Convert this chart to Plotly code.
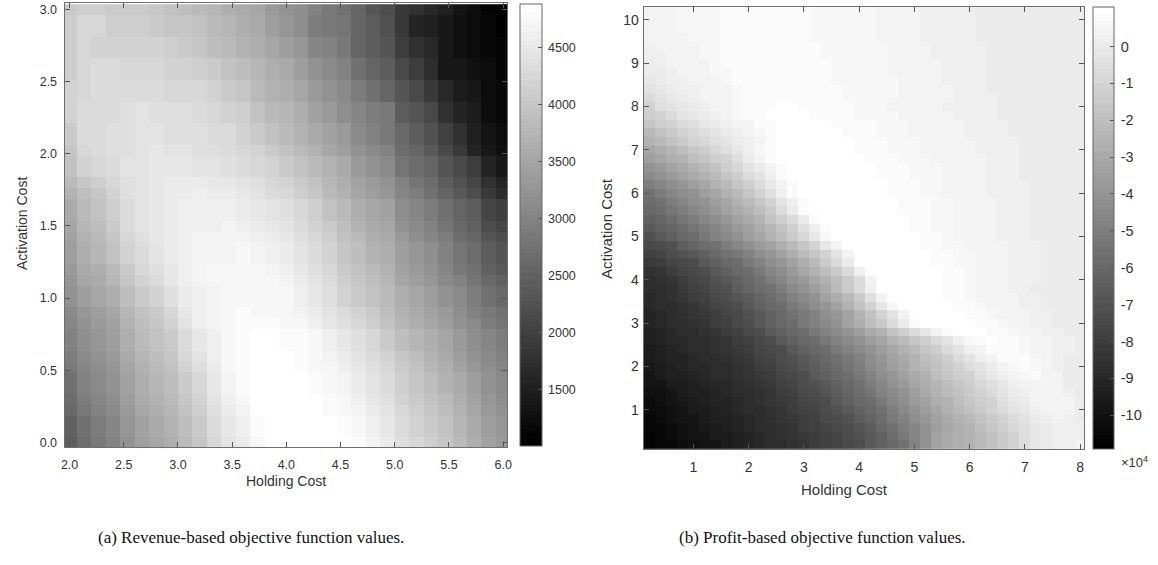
import plotly.graph_objects as go

# ---------------- (a) Revenue-based objective (rows: activation cost 0.0 -> 3.0, cols: holding cost 2.0 -> 6.0)
rev_holding_start, rev_holding_step = 2.0, 4 / 30
rev_activation_start, rev_activation_step = 0.0, 0.075
revenue = [
    [2400,2640,2830,2950,3190,3370,3500,3620,3800,3980,4230,4410,4530,4710,4840,4880,4880,4880,4880,4840,4780,4650,4530,4350,4230,4110,3980,3800,3620,3440,3310],
    [2460,2710,2890,3010,3250,3440,3560,3680,3860,4040,4290,4470,4590,4780,4880,4880,4880,4880,4840,4780,4710,4590,4470,4290,4170,4040,3920,3740,3560,3370,3250],
    [2460,2710,2890,3010,3250,3440,3560,3680,3860,4040,4290,4470,4590,4780,4880,4880,4880,4880,4840,4780,4710,4590,4470,4290,4170,4040,3920,3740,3560,3370,3250],
    [2580,2830,2950,3070,3310,3500,3620,3740,3920,4110,4350,4530,4650,4840,4880,4880,4880,4840,4780,4710,4650,4530,4410,4230,4110,3980,3860,3680,3500,3310,3190],
    [2640,2890,3010,3130,3370,3560,3680,3800,3980,4170,4410,4590,4710,4840,4880,4880,4880,4840,4780,4710,4590,4470,4350,4170,4040,3920,3800,3620,3440,3250,3130],
    [2710,2950,3070,3190,3440,3620,3740,3860,4040,4230,4470,4650,4780,4880,4880,4880,4840,4780,4710,4650,4530,4410,4290,4110,3980,3860,3680,3560,3370,3190,3070],
    [2710,2950,3070,3190,3440,3620,3740,3860,4040,4230,4470,4650,4780,4880,4880,4880,4840,4780,4710,4650,4530,4410,4290,4110,3980,3860,3680,3560,3370,3190,3070],
    [2830,3010,3130,3250,3500,3680,3800,3920,4170,4350,4530,4710,4780,4880,4880,4840,4780,4710,4710,4590,4470,4350,4230,4040,3920,3740,3620,3440,3250,3130,3010],
    [2890,3070,3190,3310,3560,3740,3860,3980,4230,4410,4590,4710,4780,4840,4840,4840,4780,4710,4650,4530,4410,4290,4170,3980,3860,3680,3560,3370,3190,3070,2950],
    [2950,3130,3250,3370,3620,3800,3920,4040,4290,4470,4590,4710,4780,4840,4840,4780,4780,4710,4590,4470,4350,4230,4040,3860,3740,3620,3500,3310,3130,3010,2890],
    [2950,3130,3250,3370,3620,3800,3920,4040,4290,4470,4590,4710,4780,4840,4840,4780,4780,4710,4590,4470,4350,4230,4040,3860,3740,3620,3500,3310,3130,3010,2890],
    [3010,3190,3310,3440,3680,3860,3980,4170,4410,4590,4650,4710,4780,4780,4780,4710,4710,4590,4470,4350,4230,4110,3920,3740,3620,3500,3370,3190,3070,2890,2770],
    [3070,3250,3370,3500,3740,3920,4040,4230,4470,4590,4650,4710,4780,4710,4710,4710,4650,4530,4410,4290,4170,4040,3860,3680,3560,3440,3310,3130,2950,2830,2710],
    [3190,3370,3500,3620,3860,4040,4170,4350,4530,4590,4650,4710,4710,4710,4710,4710,4590,4470,4350,4170,4040,3920,3800,3620,3500,3370,3190,3070,2890,2710,2580],
    [3190,3370,3500,3620,3860,4040,4170,4350,4530,4590,4650,4710,4710,4710,4710,4710,4590,4470,4350,4170,4040,3920,3800,3620,3500,3370,3190,3070,2890,2710,2580],
    [3250,3500,3560,3740,3980,4170,4290,4470,4590,4650,4710,4710,4710,4710,4710,4650,4530,4410,4290,4110,3980,3860,3740,3500,3370,3250,3070,2950,2770,2580,2460],
    [3310,3560,3620,3800,4040,4230,4350,4470,4590,4650,4710,4710,4710,4710,4650,4590,4470,4350,4230,4040,3920,3800,3680,3440,3310,3190,3010,2830,2710,2460,2340],
    [3370,3620,3740,3920,4170,4290,4410,4530,4590,4650,4650,4650,4710,4650,4590,4530,4410,4290,4170,3980,3860,3680,3620,3370,3250,3130,2950,2770,2640,2400,2280],
    [3370,3620,3740,3920,4170,4290,4410,4530,4590,4650,4650,4650,4710,4650,4590,4530,4410,4290,4170,3980,3860,3680,3620,3370,3250,3130,2950,2770,2640,2400,2280],
    [3440,3680,3800,3980,4230,4350,4470,4530,4590,4650,4650,4650,4650,4590,4530,4470,4350,4230,4110,3920,3800,3620,3560,3310,3130,3010,2890,2640,2520,2280,2160],
    [3500,3740,3860,4040,4290,4410,4470,4530,4590,4590,4590,4650,4590,4530,4470,4410,4290,4170,4040,3860,3680,3560,3500,3190,3070,2950,2770,2580,2460,2160,2040],
    [3560,3800,3920,4110,4290,4410,4470,4530,4590,4590,4590,4590,4530,4470,4410,4350,4230,4110,3920,3800,3620,3500,3440,3130,3010,2890,2710,2520,2400,2040,1910],
    [3560,3800,3920,4110,4290,4410,4470,4530,4590,4590,4590,4590,4530,4470,4410,4350,4230,4110,3920,3800,3620,3500,3440,3130,3010,2890,2710,2520,2400,2040,1910],
    [3680,3860,3980,4170,4350,4410,4470,4530,4530,4590,4530,4530,4470,4410,4290,4230,4110,3980,3800,3680,3500,3370,3250,3010,2890,2710,2520,2340,2160,1850,1670],
    [3800,3980,4110,4230,4350,4410,4470,4530,4530,4530,4470,4470,4410,4350,4230,4170,4040,3920,3740,3620,3440,3310,3190,2950,2770,2640,2400,2220,2040,1730,1550],
    [3920,4170,4230,4290,4410,4410,4470,4470,4470,4410,4410,4350,4290,4230,4170,4040,3920,3800,3680,3560,3310,3190,3070,2770,2640,2520,2280,2100,1910,1550,1400],
    [3920,4170,4230,4290,4410,4410,4470,4470,4470,4410,4410,4350,4290,4230,4170,4040,3920,3800,3680,3560,3310,3190,3070,2770,2640,2520,2280,2100,1910,1550,1400],
    [3980,4230,4290,4350,4350,4410,4470,4410,4410,4350,4350,4290,4230,4170,4040,3920,3800,3680,3500,3370,3190,3070,2950,2640,2520,2340,2100,1850,1550,1400,1300],
    [4040,4290,4290,4350,4350,4410,4410,4350,4350,4350,4290,4290,4170,4040,3920,3800,3680,3560,3440,3310,3070,2950,2830,2580,2400,2220,1970,1730,1490,1340,1240],
    [4040,4290,4290,4350,4350,4410,4410,4350,4350,4350,4290,4290,4170,4040,3920,3800,3680,3560,3440,3310,3070,2950,2830,2580,2400,2220,1970,1730,1490,1340,1240],
    [4170,4290,4290,4320,4350,4410,4350,4350,4350,4290,4230,4170,4110,3920,3800,3740,3620,3440,3340,3130,3010,2890,2830,2400,2280,2100,1730,1550,1430,1240,1180],
    [4170,4290,4290,4320,4350,4410,4350,4350,4350,4290,4230,4170,4110,3920,3800,3740,3620,3440,3340,3130,3010,2890,2830,2400,2280,2100,1730,1550,1430,1240,1180],
    [4170,4230,4290,4290,4290,4290,4290,4230,4230,4230,4170,4040,3980,3800,3680,3620,3500,3310,3190,3070,2890,2710,2520,2280,2100,1850,1610,1430,1370,1240,1150],
    [4170,4230,4290,4290,4290,4290,4290,4230,4230,4230,4170,4040,3980,3800,3680,3620,3500,3310,3190,3070,2890,2710,2520,2280,2100,1850,1610,1430,1370,1240,1150],
    [4110,4230,4290,4290,4230,4230,4230,4170,4170,4110,4040,3920,3860,3740,3620,3560,3370,3190,3100,2950,2740,2520,2400,2100,1910,1670,1400,1370,1300,1210,1120],
    [4110,4230,4290,4290,4230,4230,4230,4170,4170,4110,4040,3920,3860,3740,3620,3560,3370,3190,3100,2950,2740,2520,2400,2100,1910,1670,1400,1370,1300,1210,1120],
    [4110,4260,4170,4170,4170,4170,4170,4110,4040,3980,3860,3800,3680,3620,3500,3370,3250,3040,2950,2860,2550,2430,2310,1910,1730,1610,1370,1300,1240,1180,1090],
    [4110,4260,4170,4170,4170,4170,4170,4110,4040,3980,3860,3800,3680,3620,3500,3370,3250,3040,2950,2860,2550,2430,2310,1910,1730,1610,1370,1300,1240,1180,1090],
    [4110,4260,4230,4110,4110,4110,4070,4010,3980,3920,3800,3740,3620,3560,3370,3250,3160,2920,2860,2770,2520,2400,2220,1850,1550,1520,1370,1300,1240,1150,1060],
    [4110,4260,4230,4110,4110,4110,4070,4010,3980,3920,3800,3740,3620,3560,3370,3250,3160,2920,2860,2770,2520,2400,2220,1850,1550,1520,1370,1300,1240,1150,1060],
    [4040,4110,4110,4040,4040,4040,3980,3920,3860,3800,3740,3650,3590,3500,3310,3220,3130,2950,2830,2710,2520,2290,2160,1850,1730,1610,1490,1340,1240,1120,1060],
]
rev_ticks = [1500, 2000, 2500, 3000, 3500, 4000, 4500]
rev_x_ticks = [2.0, 2.5, 3.0, 3.5, 4.0, 4.5, 5.0, 5.5, 6.0]
rev_y_ticks = [0.0, 0.5, 1.0, 1.5, 2.0, 2.5, 3.0]

# ---------------- (b) Profit-based objective, in thousands (rows: activation 0.2 -> 10.2, cols: holding 0.2 -> 8.0)
prof_holding_start, prof_holding_step = 0.2, 0.2
prof_activation_start, prof_activation_step = 0.2, 0.2
profit_k = [
    [-107,-105,-104,-102,-100,-98,-98,-96,-94,-92,-90,-88,-87,-85,-83,-81,-79,-77,-75,-72,-68,-64,-60,-55,-49,-41,-34,-30,-28,-26,-23,-19,-15,-10,-6,-2,0,2,3,4],
    [-106,-104,-103,-101,-99,-98,-96,-95,-93,-91,-89,-88,-86,-84,-82,-80,-78,-76,-73,-71,-67,-63,-58,-53,-47,-41,-34,-30,-27,-25,-22,-18,-14,-10,-6,-2,0,2,3,3],
    [-105,-104,-102,-100,-99,-97,-95,-94,-92,-90,-88,-87,-85,-83,-81,-79,-77,-74,-72,-69,-65,-60,-56,-51,-46,-41,-35,-31,-27,-25,-21,-17,-13,-9,-5,-1,1,3,3,2],
    [-104,-103,-101,-99,-98,-96,-94,-93,-91,-89,-88,-86,-84,-82,-80,-78,-75,-72,-70,-66,-62,-57,-53,-48,-43,-39,-34,-29,-25,-22,-18,-14,-10,-7,-3,0,2,4,3,1],
    [-103,-102,-100,-98,-96,-95,-93,-92,-90,-88,-87,-85,-83,-81,-79,-76,-73,-71,-67,-63,-59,-55,-50,-45,-41,-36,-31,-26,-23,-19,-15,-11,-8,-4,-1,2,4,5,4,0],
    [-102,-101,-99,-97,-95,-94,-92,-91,-89,-88,-86,-84,-82,-80,-77,-74,-72,-68,-64,-60,-57,-52,-47,-42,-38,-33,-28,-25,-21,-17,-13,-10,-6,-2,1,4,5,5,4,0],
    [-101,-100,-98,-96,-94,-93,-91,-90,-88,-87,-85,-83,-81,-78,-75,-72,-69,-65,-61,-57,-54,-49,-44,-40,-35,-30,-26,-23,-19,-15,-11,-8,-4,0,3,5,5,5,3,0],
    [-99,-98,-96,-95,-93,-92,-90,-89,-88,-86,-84,-82,-79,-76,-73,-71,-67,-63,-59,-56,-51,-46,-41,-37,-32,-27,-24,-20,-16,-12,-9,-5,-1,2,5,5,5,4,0,0],
    [-98,-96,-94,-93,-91,-90,-88,-88,-86,-84,-82,-80,-77,-74,-72,-68,-64,-60,-57,-53,-48,-43,-39,-34,-29,-25,-21,-17,-13,-10,-6,-2,2,5,6,7,5,4,0,0],
    [-97,-95,-93,-92,-90,-89,-88,-87,-85,-83,-81,-78,-75,-72,-69,-65,-61,-57,-54,-50,-45,-41,-36,-31,-26,-22,-18,-14,-10,-7,-3,1,5,6,7,6,5,3,0,0],
    [-96,-94,-92,-91,-89,-88,-87,-86,-84,-82,-79,-76,-73,-71,-67,-63,-59,-56,-52,-48,-43,-39,-34,-29,-25,-20,-16,-12,-8,-3,2,5,7,8,7,6,5,3,0,0],
    [-95,-93,-91,-90,-88,-88,-86,-84,-82,-80,-77,-74,-72,-68,-64,-60,-57,-53,-49,-45,-41,-36,-31,-26,-22,-17,-12,-8,-3,2,5,8,8,7,6,5,5,3,2,0],
    [-94,-92,-90,-89,-88,-87,-85,-83,-81,-78,-75,-72,-68,-64,-60,-57,-53,-49,-45,-41,-36,-31,-26,-22,-17,-12,-8,-3,2,6,8,9,8,7,6,5,5,3,2,0],
    [-93,-91,-89,-88,-87,-85,-83,-81,-78,-75,-72,-68,-64,-60,-57,-53,-49,-45,-41,-36,-30,-25,-19,-13,-8,-2,4,8,11,11,9,8,7,6,5,5,3,2,0,0],
    [-92,-90,-88,-87,-85,-83,-81,-78,-75,-72,-68,-64,-60,-57,-53,-49,-44,-40,-34,-27,-21,-14,-7,1,7,11,11,11,11,9,8,7,6,5,5,3,3,0,0,0],
    [-91,-89,-88,-86,-84,-82,-80,-77,-74,-71,-67,-63,-59,-56,-52,-48,-43,-39,-33,-26,-19,-11,-4,4,11,11,11,11,9,8,7,6,5,5,5,3,3,0,0,0],
    [-90,-88,-87,-85,-83,-80,-77,-74,-72,-68,-64,-60,-57,-53,-48,-43,-39,-33,-26,-19,-10,-1,6,11,11,11,11,9,8,7,6,5,5,5,3,3,0,0,0,0],
    [-89,-88,-86,-84,-81,-78,-75,-72,-69,-65,-61,-57,-54,-49,-44,-40,-34,-28,-22,-14,-6,4,11,11,11,11,9,8,7,6,5,5,5,4,3,3,0,0,0,0],
    [-88,-87,-85,-82,-79,-76,-73,-70,-66,-62,-58,-55,-50,-45,-41,-35,-29,-23,-15,-7,3,11,11,11,11,11,9,8,7,6,5,5,4,3,3,0,0,0,0,0],
    [-87,-85,-83,-80,-77,-74,-71,-67,-63,-59,-56,-51,-46,-41,-37,-32,-26,-21,-15,-7,5,11,11,11,11,11,9,8,7,6,5,5,5,3,3,3,0,0,0,0],
    [-85,-83,-80,-77,-74,-72,-68,-64,-60,-57,-52,-47,-42,-38,-32,-26,-21,-14,-7,2,11,11,11,11,11,11,9,8,7,6,5,5,5,3,3,3,0,0,0,0],
    [-82,-80,-77,-74,-72,-68,-64,-60,-57,-53,-48,-43,-39,-33,-27,-22,-15,-8,1,11,11,11,11,11,11,9,8,7,6,6,5,5,5,3,3,3,0,0,0,0],
    [-79,-76,-73,-71,-67,-63,-59,-56,-52,-48,-43,-39,-34,-28,-23,-17,-10,-3,5,11,11,11,11,11,11,9,8,7,6,6,5,5,5,3,3,3,0,0,0,0],
    [-75,-72,-70,-66,-62,-58,-55,-51,-47,-42,-38,-33,-27,-22,-16,-10,-2,5,11,11,11,11,11,11,9,8,7,6,6,5,5,5,4,3,3,3,0,0,0,0],
    [-70,-67,-64,-60,-57,-53,-49,-45,-41,-36,-31,-26,-21,-15,-9,-1,6,11,11,11,11,11,11,11,9,8,7,6,5,5,5,4,3,3,3,0,0,0,0,0],
    [-67,-64,-61,-57,-54,-50,-46,-42,-38,-33,-28,-24,-18,-12,-6,2,8,11,11,11,11,11,11,9,8,7,6,6,5,5,5,4,3,3,3,0,0,0,0,0],
    [-64,-61,-57,-54,-50,-46,-42,-39,-34,-29,-25,-19,-13,-7,0,7,11,11,11,11,11,11,11,9,8,7,6,6,5,5,5,4,3,3,3,0,0,0,0,0],
    [-60,-57,-54,-50,-46,-42,-39,-34,-29,-25,-20,-14,-8,0,7,11,11,11,11,11,11,11,9,8,8,7,6,6,5,5,5,4,3,3,3,0,0,0,0,0],
    [-57,-55,-51,-47,-43,-40,-36,-31,-26,-22,-16,-10,-4,3,8,11,11,11,11,11,11,11,9,8,8,7,6,6,5,5,5,5,3,3,3,0,0,0,0,0],
    [-55,-51,-47,-43,-40,-36,-31,-26,-22,-16,-10,-5,2,7,11,11,11,11,11,11,11,9,8,8,7,6,6,5,5,5,5,3,3,3,3,0,0,0,0,0],
    [-50,-46,-42,-39,-35,-31,-26,-22,-17,-12,-7,-1,5,8,11,11,11,11,11,11,11,9,8,8,7,6,6,5,5,5,5,3,3,3,3,0,0,0,0,0],
    [-45,-41,-38,-34,-30,-26,-22,-17,-12,-8,-3,3,7,11,11,11,11,11,11,11,9,8,8,7,6,6,6,5,5,5,5,3,3,3,0,0,0,0,0,0],
    [-41,-37,-33,-29,-25,-22,-18,-13,-9,-4,1,5,8,11,11,11,11,11,11,11,9,8,8,7,6,6,6,5,5,5,5,3,3,3,0,0,0,0,0,0],
    [-36,-32,-28,-25,-21,-17,-13,-10,-5,0,5,8,11,11,11,11,11,11,11,9,8,8,7,6,6,6,5,5,5,5,5,3,3,3,0,0,0,0,0,0],
    [-31,-27,-24,-20,-16,-12,-9,-5,-1,3,6,8,11,11,11,11,11,11,9,8,8,7,6,6,6,5,5,5,5,5,3,3,3,3,0,0,0,0,0,0],
    [-26,-23,-19,-15,-11,-9,-6,-3,0,3,5,8,11,11,11,11,11,11,9,8,8,7,6,6,6,5,5,5,5,5,3,3,3,3,0,0,0,0,0,0],
    [-22,-18,-14,-11,-9,-6,-3,0,2,4,6,8,11,11,11,11,11,9,8,8,7,6,6,6,5,5,5,5,5,3,3,3,3,0,0,0,0,0,0,0],
    [-17,-13,-10,-8,-5,-2,0,2,4,5,7,8,11,11,11,11,9,8,8,8,7,6,6,6,5,5,5,5,5,3,3,3,3,0,0,0,0,0,0,0],
    [-13,-10,-7,-4,-1,1,3,5,6,7,8,9,11,11,11,8,8,8,8,6,6,6,6,5,5,5,5,5,3,3,3,3,0,0,0,0,0,0,0,0],
    [-10,-6,-3,-1,1,3,4,5,6,7,8,8,9,9,8,8,8,8,8,6,6,6,5,5,5,5,5,3,3,3,3,3,0,0,0,0,0,0,0,0],
    [-7,-4,-1,1,3,4,5,5,6,7,8,8,8,8,8,8,8,8,6,6,6,6,6,5,5,5,5,5,3,3,3,3,0,0,0,0,0,0,0,0],
    [-4,-2,0,2,3,4,5,5,6,7,8,8,8,8,8,8,8,8,6,6,6,6,6,5,5,5,5,5,3,3,3,0,0,0,0,0,0,0,0,0],
    [-2,0,2,3,4,5,5,6,7,8,8,8,8,8,8,8,8,6,6,6,6,6,6,5,5,5,5,3,3,3,3,0,0,0,0,0,0,0,0,0],
    [0,1,3,4,5,5,6,6,7,8,8,8,8,8,8,8,8,6,6,6,6,6,5,5,5,5,5,3,3,3,3,0,0,0,0,0,0,0,0,0],
    [1,2,4,5,5,5,6,7,8,8,8,8,8,8,8,8,8,6,6,6,6,6,5,5,5,5,5,3,3,3,3,0,0,0,0,0,0,0,0,0],
    [2,3,4,5,5,6,6,7,8,8,8,8,8,8,8,8,6,6,6,6,6,6,5,5,5,5,3,3,3,3,3,0,0,0,0,0,0,0,0,0],
    [3,4,5,5,5,6,6,7,8,8,8,8,8,8,8,8,6,6,6,6,6,6,5,5,5,5,3,3,3,3,3,0,0,0,0,0,0,0,0,0],
    [4,4,5,5,6,6,6,8,8,8,8,8,8,8,8,6,6,6,6,6,6,5,5,5,5,3,3,3,3,3,0,0,0,0,0,0,0,0,0,0],
    [4,5,5,6,6,6,6,8,8,8,8,8,8,8,8,6,6,6,6,6,6,5,5,5,5,3,3,3,3,3,0,0,0,0,0,0,0,0,0,0],
    [4,5,5,6,6,6,6,8,8,8,8,8,8,8,8,6,6,6,6,6,6,5,5,5,5,3,3,3,3,3,0,0,0,0,0,0,0,0,0,0],
    [4,5,5,6,6,6,6,8,8,8,8,8,8,8,8,6,6,6,6,6,6,5,5,5,5,3,3,3,3,3,0,0,0,0,0,0,0,0,0,0],
]
prof_ticks_1e4 = [-10, -9, -8, -7, -6, -5, -4, -3, -2, -1, 0]
prof_x_ticks = [1, 2, 3, 4, 5, 6, 7, 8]
prof_y_ticks = [1, 2, 3, 4, 5, 6, 7, 8, 9, 10]

assert all(len(r) == 31 for r in revenue) and len(revenue) == 41
assert all(len(r) == 40 for r in profit_k) and len(profit_k) == 51

profit = [[v * 1000 for v in row] for row in profit_k]

W, H = 1158, 565
FONT = "Liberation Sans, Arial, Helvetica, sans-serif"
SERIF = "Liberation Serif, DejaVu Serif, serif"
TXT = "#333333"

# MATLAB-style 64-level gray colormap (stepped)
N_LEVELS = 64
GRAY = []
for i in range(N_LEVELS):
    g = round(255 * i / (N_LEVELS - 1))
    c = f"rgb({g},{g},{g})"
    GRAY.append([i / N_LEVELS, c])
    GRAY.append([(i + 1) / N_LEVELS, c])


def px(x):
    return x / W


def py(y):
    return (H - y) / H


fig = go.Figure()

fig.add_trace(go.Heatmap(
    z=revenue, x0=rev_holding_start, dx=rev_holding_step,
    y0=rev_activation_start, dy=rev_activation_step,
    colorscale=GRAY, zmin=1000, zmax=4880, xaxis="x", yaxis="y",
    colorbar=dict(
        x=px(520), xanchor="left", xpad=0, ypad=0,
        y=py(226), yanchor="middle", lenmode="fraction", len=444 / H,
        thicknessmode="pixels", thickness=22,
        outlinecolor="#666666", outlinewidth=1,
        ticks="inside", ticklen=4, tickcolor="#555555",
        tickvals=rev_ticks, ticktext=["\u2009" + str(t) for t in rev_ticks],
        tickfont=dict(family=FONT, size=12.5, color=TXT),
    ),
))

fig.add_trace(go.Heatmap(
    z=profit, x0=prof_holding_start, dx=prof_holding_step,
    y0=prof_activation_start, dy=prof_activation_step,
    colorscale=GRAY, zmin=-109200, zmax=10650, xaxis="x2", yaxis="y2",
    colorbar=dict(
        x=px(1097), xanchor="left", xpad=0, ypad=0,
        y=py(229), yanchor="middle", lenmode="fraction", len=443.4 / H,
        thicknessmode="pixels", thickness=21,
        outlinecolor="#666666", outlinewidth=1,
        ticks="inside", ticklen=4, tickcolor="#555555",
        tickvals=[t * 10000 for t in prof_ticks_1e4],
        ticktext=["\u2009" + str(t) for t in prof_ticks_1e4],
        tickfont=dict(family=FONT, size=14.5, color=TXT),
    ),
))

axis_common = dict(
    showgrid=False, zeroline=False, showline=True, linecolor="#6e6e6e", linewidth=1,
    mirror="ticks", ticks="inside", ticklen=5, tickcolor="#555555",
)

fig.update_layout(
    width=W, height=H, autosize=False,
    margin=dict(l=0, r=0, t=0, b=0),
    paper_bgcolor="white", plot_bgcolor="white",
    font=dict(family=FONT, color=TXT),
    xaxis=dict(domain=[px(61), px(507)], range=[1.954, 6.04], tickvals=rev_x_ticks,
               tickformat=".1f", tickfont=dict(size=12.5, color=TXT), anchor="y",
               ticklabelstandoff=6, **axis_common),
    yaxis=dict(domain=[py(449), py(3)], range=[-0.035, 3.046], tickvals=rev_y_ticks,
               tickformat=".1f", tickfont=dict(size=12.5, color=TXT), anchor="x",
               ticklabelstandoff=4, **axis_common),
    xaxis2=dict(domain=[px(644), px(1088)], range=[0.1, 8.08], tickvals=prof_x_ticks,
                tickfont=dict(size=14, color=TXT), anchor="y2",
                ticklabelstandoff=5, **axis_common),
    yaxis2=dict(domain=[py(450.7), py(7.3)], range=[0.094, 10.29], tickvals=prof_y_ticks,
                tickfont=dict(size=14, color=TXT), anchor="x2",
                ticklabelstandoff=1, **axis_common),
)


def label(text, x, y, size, angle=0, family=FONT, color=TXT):
    return dict(text=text, x=px(x), y=py(y), xref="paper", yref="paper",
                xanchor="center", yanchor="middle", showarrow=False, textangle=angle,
                font=dict(family=family, size=size, color=color))


ann = [
    label("Holding Cost", 284, 483, 14),
    label("Activation Cost", 18, 224, 14, angle=-90),
    label("Holding Cost", 846, 491, 15),
    label("Activation Cost", 606, 229, 15, angle=-90),
    label("\u00d710<sup>4</sup>", 1138, 464, 13),
    label("(a) Revenue-based objective function values.", 249, 539, 17, family=SERIF, color="#111111"),
    label("(b) Profit-based objective function values.", 824, 539, 17, family=SERIF, color="#111111"),
]
fig.update_layout(annotations=ann)

fig.write_html("out.html")
